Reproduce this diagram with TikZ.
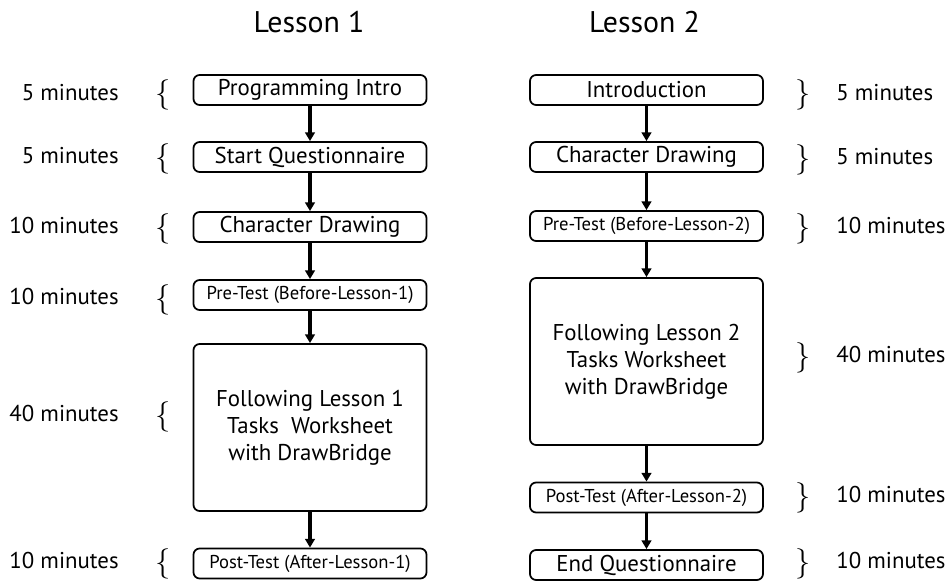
\documentclass[tikz,border=0pt]{standalone}
\usepackage{fontspec}
\setmainfont{PT Sans}
\usetikzlibrary{positioning,arrows.meta}

\begin{document}
\begin{tikzpicture}[
    box/.style={rectangle, draw, rounded corners=3.5pt, line width=1pt, minimum width=4.66cm, minimum height=0.6cm, inner sep=0pt, font=\fontsize{13}{15}\selectfont},
    small/.style={font=\fontsize{10.6}{12}\selectfont},
    tall/.style={minimum height=3.34cm, align=center, font=\fontsize{13}{15.4}\selectfont},
    flow/.style={-{Triangle[width=5.5pt,length=5pt]}, line width=2.1pt},
    mins/.style={inner sep=0pt, font=\fontsize{13}{15}\selectfont},
    brc/.style={inner sep=0pt, font=\fontsize{18}{18}\selectfont}
  ]
  \useasboundingbox (0,0) rectangle (18.98,-11.64);

  % column headings
  \node[font=\fontsize{17}{20}\selectfont] (H1) at (6.18,-0.45) {Lesson 1};
  \node[font=\fontsize{17}{20}\selectfont] (H2) at (12.89,-0.45) {Lesson 2};

  % Lesson 1 steps
  \foreach \i/\y/\st/\txt in {1/-1.8//Programming Intro, 2/-3.14//Start Questionnaire, 3/-4.54//Character Drawing, 4/-5.9/small/Pre-Test (Before-Lesson-1), 5/-8.55/tall/{Following Lesson 1\\Tasks\ \ Worksheet\\with DrawBridge}, 6/-11.27/small/Post-Test (After-Lesson-1)} {
    \node[box, \st] (L\i) at (6.2, \y) {\txt};
  }

  % Lesson 2 steps
  \foreach \i/\y/\st/\txt in {1/-1.8//Introduction, 2/-3.14//Character Drawing, 3/-4.52/small/Pre-Test (Before-Lesson-2), 4/-7.23/tall/{Following Lesson 2\\Tasks Worksheet\\with DrawBridge}, 5/-9.95/small/Post-Test (After-Lesson-2), 6/-11.3//End Questionnaire} {
    \node[box, \st] (R\i) at (12.93, \y) {\txt};
  }

  % arrows between steps
  \foreach \i [evaluate=\i as \j using int(\i+1)] in {1,...,5} {
    \draw[flow] (L\i) -- (L\j);
    \draw[flow] (R\i) -- (R\j);
  }

  % time spent on each step
  \foreach \y/\t [count=\k] in {-1.85/5, -3.12/5, -4.52/10, -5.94/10, -8.28/40, -11.22/10} {
    \node[brc] (bl\k) at (3.26, \y-0.05) {$\{$};
    \node[mins, anchor=east] (tl\k) at (2.38, \y) {\t\ minutes};
  }
  \foreach \y/\t [count=\k] in {-1.85/5, -3.14/5, -4.52/10, -7.1/40, -9.9/10, -11.22/10} {
    \node[brc] (br\k) at (16.06, \y-0.05) {$\}$};
    \node[mins, anchor=west] (tr\k) at (16.72, \y) {\t\ minutes};
  }
\end{tikzpicture}
\end{document}
